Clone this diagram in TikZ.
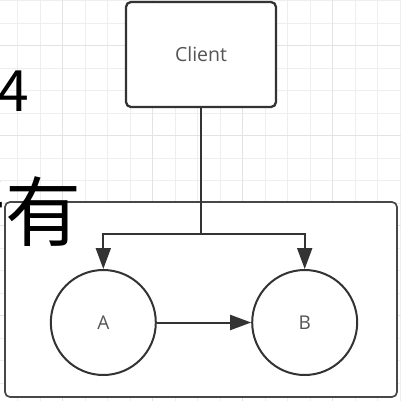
\documentclass[tikz,border=0pt]{standalone}
\usepackage{fontspec}
\setmainfont{Open Sans}
\newfontfamily\cjk{Noto Sans CJK SC}
\usetikzlibrary{arrows.meta}
\definecolor{edge}{HTML}{333333}
\definecolor{labelgray}{HTML}{555555}
\definecolor{gridminor}{HTML}{EEEEEE}
\definecolor{gridmajor}{HTML}{E3E3E3}
\tikzset{
  minorgrid/.style={draw=gridminor, line width=0.9pt},
  majorgrid/.style={draw=gridmajor, line width=1.2pt},
  boxnode/.style={draw=edge, fill=white, line width=2.3pt, rounded corners=5pt,
    font=\fontsize{19.5}{22}\selectfont, text=labelgray, inner sep=0pt},
  framenode/.style={draw=edge!90, fill=white, line width=1.7pt, rounded corners=5pt, inner sep=0pt},
  circnode/.style={draw=edge, fill=white, line width=2pt, circle, inner sep=0pt,
    minimum size=105pt, font=\fontsize{19}{22}\selectfont, text=labelgray},
  conn/.style={draw=edge, line width=2pt},
  arrowconn/.style={conn, -{Triangle[length=21pt,width=15pt]}},
  bigtext/.style={inner sep=0pt, text=black, font=\cjk\fontsize{76}{80}\selectfont},
  bigdigit/.style={inner sep=0pt, text=black, font=\cjk\fontsize{57}{60}\selectfont}
}
\begin{document}
\begin{tikzpicture}[x=1pt,y=-1pt]
\useasboundingbox (0,0) rectangle (401,401);
\clip (0,0) rectangle (401,401);
\fill[white] (0,0) rectangle (401,401);
% grid
\foreach \i in {-1,...,17} {
  \draw[minorgrid] ({17.7+22.5*\i},0) -- ++(0,401);
  \draw[minorgrid] (0,{0.8+22.5*\i}) -- ++(401,0);
}
\foreach \i in {-1,...,4} {
  \draw[majorgrid] ({62.7+90*\i},0) -- ++(0,401);
  \draw[majorgrid] (0,{45.7+90*\i}) -- ++(401,0);
}
% container
\node[framenode, minimum width=392pt, minimum height=195pt] (frame) at (201,299.5) {};
% client
\node[boxnode, minimum width=150pt, minimum height=105pt] (client) at (201,54.5) {Client};
% circles
\node[circnode] (A) at (103.3,322.5) {A};
\node[circnode] (B) at (304.7,322.5) {B};
% connectors
\coordinate (split) at (201,234);
\draw[conn] (client.south) -- (split);
\draw[arrowconn] (split) -| (A.north);
\draw[arrowconn] (split) -| (B.north);
\draw[arrowconn] (A.east) -- (B.west);
% big overlay text
\node[bigdigit, anchor=base east] (four) at (29.5,111) {4};
\node[bigtext, anchor=base east] (you) at (82,240) {所有};
\end{tikzpicture}
\end{document}
